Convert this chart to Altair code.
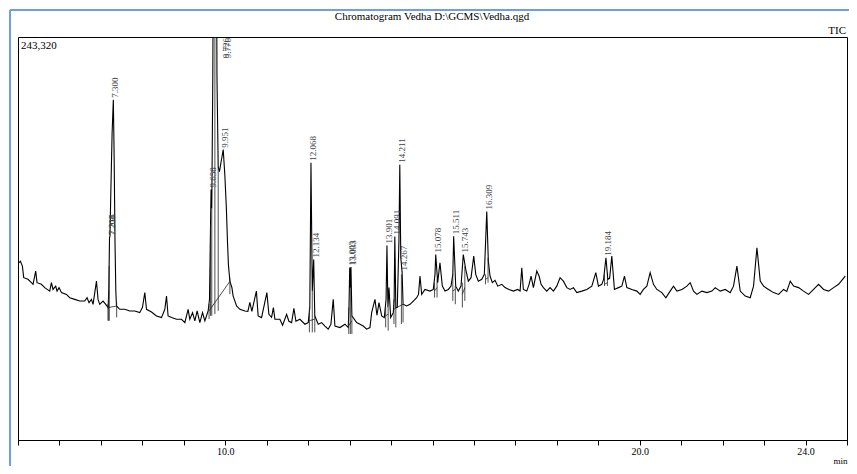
import altair as alt
import pandas as pd

# Retention time (min) and TIC intensity (thousands of counts)
time_min = [5.017, 5.058, 5.106, 5.138, 5.241, 5.324, 5.362, 5.403, 5.427, 5.459, 5.565, 5.645, 5.765, 5.806, 5.845, 5.910, 5.942, 5.990, 6.048, 6.169, 6.248, 6.369, 6.490, 6.610, 6.666, 6.714, 6.772, 6.811, 6.893, 6.931, 6.972, 7.052, 7.117, 7.173, 7.190, 7.208, 7.218, 7.240, 7.270, 7.300, 7.320, 7.340, 7.360, 7.376, 7.455, 7.576, 7.697, 7.817, 7.938, 8.003, 8.059, 8.100, 8.221, 8.341, 8.462, 8.542, 8.583, 8.621, 8.704, 8.824, 8.945, 9.025, 9.104, 9.145, 9.211, 9.266, 9.322, 9.387, 9.452, 9.508, 9.587, 9.620, 9.645, 9.658, 9.675, 9.700, 9.726, 9.750, 9.776, 9.800, 9.830, 9.860, 9.900, 9.951, 9.990, 10.027, 10.052, 10.076, 10.112, 10.160, 10.191, 10.273, 10.353, 10.473, 10.546, 10.594, 10.642, 10.751, 10.794, 10.876, 11.004, 11.053, 11.118, 11.161, 11.198, 11.318, 11.383, 11.480, 11.536, 11.601, 11.656, 11.705, 11.801, 11.922, 12.002, 12.040, 12.068, 12.100, 12.134, 12.160, 12.243, 12.325, 12.405, 12.484, 12.549, 12.605, 12.646, 12.767, 12.888, 12.967, 12.985, 13.003, 13.018, 13.033, 13.055, 13.170, 13.250, 13.329, 13.411, 13.491, 13.532, 13.612, 13.660, 13.709, 13.774, 13.837, 13.880, 13.901, 13.925, 13.950, 13.991, 14.054, 14.075, 14.091, 14.115, 14.150, 14.190, 14.211, 14.235, 14.267, 14.290, 14.377, 14.457, 14.537, 14.618, 14.662, 14.698, 14.739, 14.819, 14.940, 15.019, 15.060, 15.078, 15.125, 15.180, 15.237, 15.302, 15.382, 15.447, 15.490, 15.511, 15.560, 15.623, 15.688, 15.743, 15.802, 15.864, 15.930, 15.995, 16.043, 16.106, 16.188, 16.251, 16.309, 16.347, 16.388, 16.444, 16.509, 16.574, 16.671, 16.750, 16.847, 16.951, 17.057, 17.113, 17.154, 17.192, 17.274, 17.330, 17.378, 17.434, 17.516, 17.571, 17.620, 17.675, 17.757, 17.837, 17.917, 17.998, 18.078, 18.158, 18.240, 18.320, 18.400, 18.481, 18.602, 18.723, 18.844, 18.940, 19.003, 19.085, 19.128, 19.184, 19.230, 19.273, 19.326, 19.389, 19.486, 19.568, 19.631, 19.689, 19.809, 19.930, 20.010, 20.089, 20.171, 20.251, 20.331, 20.413, 20.534, 20.630, 20.734, 20.814, 20.896, 21.017, 21.137, 21.217, 21.297, 21.379, 21.499, 21.620, 21.741, 21.821, 21.941, 22.062, 22.183, 22.262, 22.344, 22.424, 22.545, 22.665, 22.745, 22.827, 22.907, 22.987, 23.107, 23.228, 23.349, 23.469, 23.547, 23.631, 23.711, 23.832, 23.952, 24.073, 24.194, 24.314, 24.435, 24.556, 24.676, 24.797, 24.894, 24.959]

intensity_k = [107.0, 108.0, 105.0, 98.0, 97.0, 95.0, 94.0, 99.0, 102.0, 95.0, 94.0, 92.0, 89.9, 95.0, 90.9, 92.9, 89.9, 92.0, 89.0, 87.9, 85.9, 84.9, 83.9, 83.9, 85.9, 82.9, 84.9, 81.9, 95.9, 84.9, 81.9, 83.9, 81.9, 79.9, 90.0, 122.3, 122.8, 150.0, 185.0, 205.4, 170.0, 120.0, 90.0, 80.9, 78.9, 78.9, 77.9, 77.9, 76.9, 80.1, 89.0, 78.9, 77.3, 74.9, 73.9, 78.9, 86.9, 74.9, 73.9, 72.9, 72.9, 70.9, 78.9, 72.9, 76.9, 71.9, 77.9, 70.9, 76.9, 71.9, 77.9, 85.0, 130.0, 151.2, 140.0, 220.0, 380.0, 250.0, 400.0, 220.0, 165.0, 162.0, 168.0, 175.3, 160.0, 140.0, 121.1, 106.0, 95.8, 92.1, 86.9, 80.9, 78.9, 77.9, 77.7, 83.1, 77.7, 89.9, 74.9, 73.9, 89.0, 75.9, 74.1, 79.9, 72.9, 72.9, 69.3, 75.9, 71.7, 70.9, 79.5, 71.7, 72.9, 69.9, 70.9, 80.0, 167.4, 90.0, 109.0, 75.0, 69.9, 70.9, 68.8, 66.9, 69.9, 84.9, 68.8, 67.9, 69.9, 67.9, 80.0, 104.2, 92.0, 104.5, 75.0, 70.9, 69.9, 68.8, 66.9, 67.9, 76.9, 84.9, 75.3, 82.9, 74.9, 73.9, 85.0, 117.4, 80.0, 92.0, 73.9, 76.9, 85.0, 122.9, 80.0, 80.0, 120.0, 166.2, 110.0, 101.2, 82.0, 80.9, 81.9, 83.9, 85.9, 87.9, 99.0, 87.9, 90.9, 89.9, 90.9, 100.0, 112.0, 95.0, 107.0, 92.9, 89.9, 90.9, 92.9, 100.0, 123.0, 92.9, 89.9, 92.9, 112.0, 103.0, 95.9, 98.0, 111.0, 100.0, 95.9, 97.0, 100.0, 137.9, 108.0, 99.0, 95.0, 96.4, 92.9, 94.0, 92.0, 90.9, 89.9, 90.9, 90.0, 104.0, 90.9, 89.9, 94.0, 99.0, 92.0, 102.0, 99.0, 94.0, 92.0, 89.9, 92.0, 89.9, 92.9, 98.0, 95.9, 92.0, 90.9, 92.0, 89.0, 89.9, 90.9, 92.9, 101.0, 92.9, 94.0, 97.0, 110.0, 97.0, 97.6, 111.0, 90.9, 92.0, 92.9, 99.0, 92.0, 90.9, 89.9, 87.9, 90.9, 92.9, 101.0, 94.0, 90.9, 89.0, 85.9, 89.9, 92.9, 89.9, 90.9, 92.9, 95.0, 89.9, 87.9, 89.9, 89.0, 89.9, 92.0, 89.9, 90.9, 89.0, 92.9, 105.0, 89.9, 86.9, 85.9, 92.9, 116.1, 95.9, 92.9, 90.9, 89.0, 87.9, 90.9, 89.7, 95.9, 92.9, 92.0, 89.9, 87.9, 90.9, 94.0, 90.9, 89.9, 92.0, 94.0, 97.0, 99.0]

# Labelled peaks (on scale)
peak_labels = ["7.208", "7.218", "7.300", "9.658", "9.951", "12.068", "12.134", "13.003", "13.033", "13.901", "14.091", "14.211", "14.267", "15.078", "15.511", "15.743", "16.309", "19.184"]
peak_times = [7.208, 7.218, 7.300, 9.658, 9.951, 12.068, 12.134, 13.003, 13.033, 13.901, 14.091, 14.211, 14.267, 15.078, 15.511, 15.743, 16.309, 19.184]
peak_heights = [122.3, 122.8, 205.4, 151.2, 175.3, 167.4, 109.0, 104.2, 104.5, 117.4, 122.9, 166.2, 101.2, 112.0, 123.0, 112.0, 137.9, 110.0]

# Off-scale peaks (labels drawn at the top)
top_labels = ["9.726", "9.776"]
top_times = [9.726, 9.776]

# Integration marks: peak split / start / end lines (time, low, high intensity)
drop_times = [7.170, 7.190, 7.200, 7.380, 9.610, 9.645, 9.675, 9.750, 9.830, 10.112, 12.030, 12.100, 12.160, 12.980, 13.018, 13.055, 13.870, 13.930, 14.070, 14.115, 14.250, 14.290, 15.050, 15.110, 15.490, 15.550, 15.720, 15.780, 16.280, 16.340, 19.150, 19.220]
drop_low = [72.0, 72.0, 72.0, 74.0, 73.0, 75.0, 75.0, 76.0, 78.0, 88.0, 65.0, 65.0, 65.0, 64.0, 64.0, 64.0, 68.0, 66.0, 70.0, 68.0, 70.0, 71.0, 86.0, 86.0, 84.0, 82.0, 80.0, 84.0, 94.0, 95.0, 93.0, 93.0]
drop_high = [82.0, 90.0, 105.0, 83.0, 82.0, 130.0, 140.0, 250.0, 165.0, 98.0, 80.0, 90.0, 75.0, 80.0, 92.0, 75.0, 80.0, 80.0, 85.0, 80.0, 100.0, 82.0, 95.0, 97.0, 100.0, 93.0, 95.0, 105.0, 100.0, 110.0, 100.0, 98.0]

# Integration baselines (start time, start intensity, end time, end intensity)
base_t1 = [7.170, 9.610, 12.030, 12.980, 13.870, 14.070, 15.050, 15.490, 15.720, 16.280, 19.150]
base_i1 = [79.9, 78.0, 72.0, 69.0, 75.0, 79.0, 90.0, 90.0, 88.0, 97.0, 94.0]
base_t2 = [7.380, 10.112, 12.160, 13.055, 13.930, 14.290, 15.110, 15.550, 15.780, 16.340, 19.220]
base_i2 = [80.9, 95.8, 73.0, 72.0, 76.0, 82.0, 92.0, 91.0, 92.0, 98.0, 95.0]

y_max = 243.32  # 243,320 counts
x_min, x_max = 5.0, 25.0
tick_values = list(range(5, 26))

SERIF = "Liberation Serif"

trace = pd.DataFrame({"t": time_min, "I": intensity_k})
peaks = pd.DataFrame({"t": peak_times, "I": peak_heights, "label": peak_labels})
tops = pd.DataFrame({"t": top_times, "label": top_labels})
drops = pd.DataFrame({"t": drop_times, "I": drop_low, "I2": drop_high})
n_base = len(base_t1)
bases = pd.DataFrame({
    "seg": list(range(n_base)) * 2,
    "t": base_t1 + base_t2,
    "I": base_i1 + base_i2,
})
dummy = pd.DataFrame({"a": [0]})

x_scale = alt.Scale(domain=[x_min, x_max], nice=False, zero=False)
y_scale = alt.Scale(domain=[0, y_max], nice=False, zero=True)

x_axis = alt.Axis(
    values=tick_values,
    labelExpr="(datum.value == 10 || datum.value == 20 || datum.value == 24) ? format(datum.value, '.1f') : ''",
    grid=False, tickSize=5, tickColor="black", domainColor="black",
    labelFont=SERIF, labelFontSize=10, labelColor="black", labelPadding=1,
    title="min", titleFont=SERIF, titleFontSize=9, titleFontWeight="normal",
    titleColor="black", titleAnchor="end", titleAlign="right", titlePadding=0,
)

X = alt.X("t:Q", scale=x_scale, axis=x_axis)
Y = alt.Y("I:Q", scale=y_scale, axis=None)

line = alt.Chart(trace).mark_line(color="#000000", strokeWidth=1.1, clip=True).encode(
    x=X, y=Y,
)

drop_rules = alt.Chart(drops).mark_rule(color="#222222", strokeWidth=0.8, clip=True).encode(
    x=X, y=Y, y2="I2:Q",
)

base_lines = alt.Chart(bases).mark_line(color="#222222", strokeWidth=0.8, clip=True).encode(
    x=X, y=Y, detail="seg:N",
)

labels = alt.Chart(peaks).mark_text(
    angle=270, align="left", baseline="middle", dx=2, dy=2,
    font=SERIF, fontSize=9, color="#3a3f4a",
).encode(
    x=X, y=Y, text="label:N",
)

top_text = alt.Chart(tops).mark_text(
    angle=270, align="right", baseline="middle", dx=-1, dy=12,
    font=SERIF, fontSize=9, color="#3a3f4a",
).encode(
    x=X, y=alt.value(0), text="label:N",
)

max_text = alt.Chart(dummy).mark_text(
    text="243,320", align="left", baseline="middle", font=SERIF, fontSize=11, color="black"
).encode(x=alt.value(3), y=alt.value(9))

title_text = alt.Chart(dummy).mark_text(
    text="Chromatogram Vedha D:\\GCMS\\Vedha.qgd", align="center", baseline="middle",
    font=SERIF, fontSize=11, color="black"
).encode(x=alt.value(414), y=alt.value(-20))

tic_text = alt.Chart(dummy).mark_text(
    text="TIC", align="right", baseline="middle", font=SERIF, fontSize=11, color="black"
).encode(x=alt.value(828), y=alt.value(-6))

blue_left = alt.Chart(dummy).mark_rule(color="#6f9fdc", strokeWidth=2).encode(
    x=alt.value(-8), y=alt.value(-27), y2=alt.value(440)
)
blue_top = alt.Chart(dummy).mark_rule(color="#6f9fdc", strokeWidth=2).encode(
    x=alt.value(-8), x2=alt.value(840), y=alt.value(-27)
)

chart = alt.layer(
    line, base_lines, drop_rules, labels, top_text,
    max_text, title_text, tic_text, blue_left, blue_top
).properties(
    width=829, height=403,
    autosize=alt.AutoSizeParams(type="none"),
    padding={"left": 10, "top": 29, "right": 2, "bottom": 26},
    background="white",
).configure_view(stroke="black", strokeWidth=1)

chart.save("out.html", embed_options={"renderer": "svg", "actions": False})
